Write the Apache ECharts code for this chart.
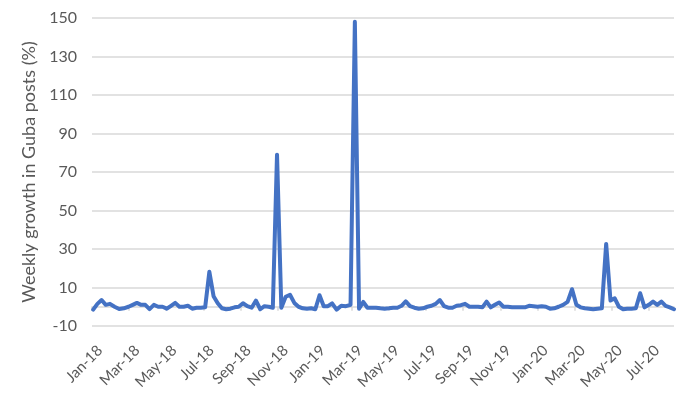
<!DOCTYPE html>
<html>
<head>
<meta charset="utf-8">
<script src="https://cdn.jsdelivr.net/npm/echarts@6/dist/echarts.min.js"></script>
<style>html,body{margin:0;padding:0;background:#fff}#c{width:700px;height:400px}</style>
</head>
<body>
<div id="c"></div>
<script>
// Weekly series starting on this date, one value per week
const startDate = '2018-01-03';
const growth = [
  -1.5, 1.5, 3.5, 1.0, 1.5, 0, -1.2, -0.8, 0, 1, 2, 1, 1, -1.2, 1, 0, 0, -1, 0.5, 2,
  0, 0, 0.5, -1, -0.5, -0.5, -0.3, 18.2, 5.5, 1.8, -0.8, -1.3, -1, -0.3, 0, 1.8, 0.3, -0.5, 3.2, -1.3,
  0.3, 0, -0.5, 79, -0.5, 5.2, 6.2, 2, 0, -0.8, -1, -0.8, -1.3, 6, 0.3, 0.3, 1.8, -1.5, 0.5, 0.3,
  1, 148, -1, 2.5, -0.5, -0.5, -0.5, -0.8, -1, -0.8, -0.5, -0.5, 0.5, 2.8, 0.3, -0.5, -1, -0.8, 0, 0.5,
  1.5, 3.5, 0.3, -0.5, -0.5, 0.5, 0.8, 1.5, 0, 0, 0, -0.3, 2.7, -0.3, 1, 2.2, 0, 0, -0.3, -0.3,
  -0.3, -0.3, 0.5, 0.3, 0, 0.3, 0, -1, -0.8, 0, 1, 2.5, 9.1, 1, -0.3, -0.8, -1, -1.3, -1, -0.8,
  32.6, 3.2, 4.4, 0, -1.3, -1, -1, -0.8, 7, -0.3, 1, 2.7, 1, 2.7, 0.5, -0.3, -1.3
];
const tickLabels = ['Jan-18','Mar-18','May-18','Jul-18','Sep-18','Nov-18','Jan-19','Mar-19','May-19','Jul-19','Sep-19','Nov-19','Jan-20','Mar-20','May-20','Jul-20'];

function monthPos(d) {
  const y = d.getUTCFullYear(), m = d.getUTCMonth();
  const dim = new Date(Date.UTC(y, m + 1, 0)).getUTCDate();
  return (y - 2018) * 12 + m + (d.getUTCDate() - 1) / dim;
}
const s = new Date(startDate + 'T00:00:00Z');
const points = growth.map((v, i) => {
  const d = new Date(s.getTime() + i * 7 * 86400000);
  return [monthPos(d), v];
});
const xMax = points[points.length - 1][0];
const tickVals = tickLabels.map((_, i) => i * 2);

const gridLeft = 92, gridRight = 26, W = 700;
const plotW = W - gridLeft - gridRight;
const labelShiftPx = 8; // rotated labels sit slightly right of their tick
const shift = labelShiftPx * xMax / plotW;

const font = 'Lato, "Open Sans", sans-serif';
const chart = echarts.init(document.getElementById('c'), null, {renderer: 'canvas'});
chart.setOption({
  animation: false,
  grid: {left: gridLeft, right: gridRight, top: 18, bottom: 74, containLabel: false},
  xAxis: [{
    type: 'value', min: 0, max: xMax,
    axisLine: {show: true, onZero: true, lineStyle: {color: '#d9d9d9', width: 1.5}},
    axisTick: {show: true, customValues: tickVals, length: 4, lineStyle: {color: '#d9d9d9', width: 1.5}},
    axisLabel: {show: false},
    splitLine: {show: false}
  }, {
    type: 'value', min: -shift, max: xMax - shift, position: 'bottom',
    axisLine: {show: false, onZero: false},
    axisTick: {show: false},
    splitLine: {show: false},
    axisLabel: {
      customValues: tickVals,
      rotate: 45, margin: 22, color: '#595959', fontSize: 15, fontFamily: font,
      formatter: v => tickLabels[Math.round(v / 2)] || ''
    }
  }],
  yAxis: {
    type: 'value', min: -10, max: 150, interval: 20,
    name: 'Weekly growth in Guba posts (%)',
    nameLocation: 'middle', nameGap: 52, nameRotate: 90,
    nameTextStyle: {color: '#595959', fontSize: 18, fontFamily: font},
    axisLine: {show: false}, axisTick: {show: false},
    axisLabel: {color: '#595959', fontSize: 16, fontFamily: font, margin: 15},
    splitLine: {lineStyle: {color: '#d9d9d9', width: 1.5}}
  },
  series: [{
    type: 'line', xAxisIndex: 0, data: points,
    showSymbol: false, symbol: 'none',
    lineStyle: {color: '#4472C4', width: 4, join: 'round', cap: 'round'},
    z: 5
  }]
});
</script>
</body>
</html>
